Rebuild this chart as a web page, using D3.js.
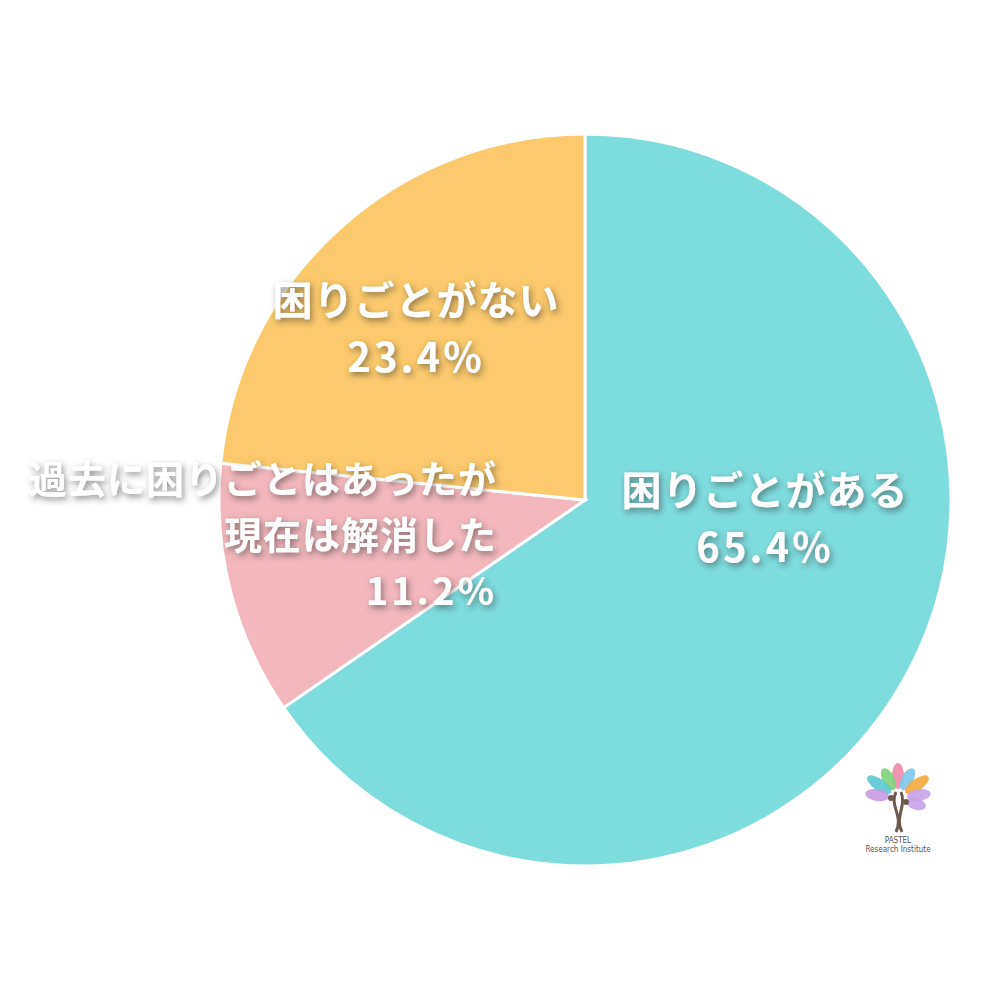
<!DOCTYPE html>
<html>
<head>
<meta charset="utf-8">
<script src="https://cdn.jsdelivr.net/npm/d3@7"></script>
<style>
  body { margin: 0; background: #fff; }
  #wrapper { width: 1000px; height: 1000px; }
</style>
</head>
<body>
<div id="wrapper"></div>
<script>
const categories = ["困りごとがある", "過去に困りごとはあったが\n現在は解消した", "困りごとがない"];
const values = [65.4, 11.2, 23.4];
const sliceColors = ["#7fdcdd", "#f3b7bd", "#fcc96c"];

const dimensions = { width: 1000, height: 1000, cx: 585, cy: 500, radius: 366 };

const svg = d3.select("#wrapper")
  .append("svg")
  .attr("width", dimensions.width)
  .attr("height", dimensions.height);

const defs = svg.append("defs");
defs.append("filter")
  .attr("id", "shadow")
  .attr("x", "-20%").attr("y", "-40%")
  .attr("width", "140%").attr("height", "180%")
  .append("feDropShadow")
  .attr("dx", 2).attr("dy", 3)
  .attr("stdDeviation", 3)
  .attr("flood-color", "#333")
  .attr("flood-opacity", 0.55);

const pie = d3.pie().sort(null).value((d) => d);
const arc = d3.arc().innerRadius(0).outerRadius(dimensions.radius);
const arcs = pie(values);

const bounds = svg.append("g")
  .attr("transform", `translate(${dimensions.cx},${dimensions.cy})`);

bounds.selectAll("path")
  .data(arcs)
  .enter()
  .append("path")
  .attr("d", arc)
  .attr("fill", (d, i) => sliceColors[i])
  .attr("stroke", "#fff")
  .attr("stroke-width", 3);

// label placement (relative to pie centre)
const labelSpots = [
  { x: 180, y: 5, anchor: "middle" },
  { x: -88, y: -7, anchor: "end" },
  { x: -169, y: -185, anchor: "middle" },
];
const lineGap = 57;

const labels = svg.append("g")
  .attr("transform", `translate(${dimensions.cx},${dimensions.cy})`)
  .style("font-family", "'Noto Sans CJK JP', 'Noto Sans', sans-serif")
  .style("font-weight", 700)
  .attr("fill", "#fff")
  .attr("filter", "url(#shadow)");

arcs.forEach((a, i) => {
  const spot = labelSpots[i];
  const lines = categories[i].split("\n").concat([d3.format(".1f")(values[i]) + "%"]);
  const t = labels.append("text")
    .attr("text-anchor", spot.anchor)
    .attr("font-size", i === 1 ? 38 : 40)
    .attr("letter-spacing", 1);
  lines.forEach((line, j) => {
    t.append("tspan")
      .attr("x", spot.x)
      .attr("y", spot.y + j * (i === 1 ? 56 : lineGap))
      .attr("letter-spacing", j === lines.length - 1 ? 3 : null)
      .text(line);
  });
});

// logo
const logo = svg.append("g").attr("transform", "translate(898,798)");
const petals = [
  { a: -90, c: "#f08aa8", l: 26 },
  { a: -63, c: "#7ec8ea", l: 24 },
  { a: -117, c: "#7fd37a", l: 24 },
  { a: -35, c: "#f5a93c", l: 28 },
  { a: -145, c: "#5cc7d6", l: 28 },
  { a: -8, c: "#c7a3e8", l: 24 },
  { a: -172, c: "#c59be3", l: 24 },
  { a: 18, c: "#c7a3e8", l: 20 },
];
logo.selectAll("ellipse")
  .data(petals)
  .enter()
  .append("ellipse")
  .attr("cx", 0).attr("cy", 0)
  .attr("rx", (d) => d.l / 2)
  .attr("ry", 6)
  .attr("fill", (d) => d.c)
  .attr("opacity", 0.9)
  .attr("transform", (d) => `rotate(${d.a}) translate(${d.l / 2 + 9},0)`);
logo.append("path")
  .attr("d", "M-2,-6 C-9,8 6,18 -2,34 M3,-6 C9,8 -4,20 4,34")
  .attr("stroke", "#6b5a4e")
  .attr("stroke-width", 3)
  .attr("fill", "none");
logo.append("circle").attr("cx", -7).attr("cy", 0).attr("r", 3).attr("fill", "#6b5a4e");
logo.append("circle").attr("cx", 8).attr("cy", 4).attr("r", 3).attr("fill", "#6b5a4e");
logo.append("text")
  .attr("x", 0).attr("y", 45)
  .attr("text-anchor", "middle")
  .attr("font-family", "'Liberation Sans Narrow', 'DejaVu Sans Condensed', sans-serif")
  .attr("font-size", 8)
  .attr("fill", "#555")
  .text("PASTEL");
logo.append("text")
  .attr("x", 0).attr("y", 54)
  .attr("text-anchor", "middle")
  .attr("font-family", "'Liberation Sans Narrow', 'DejaVu Sans Condensed', sans-serif")
  .attr("font-size", 8)
  .attr("fill", "#555")
  .text("Research Institute");
</script>
</body>
</html>
